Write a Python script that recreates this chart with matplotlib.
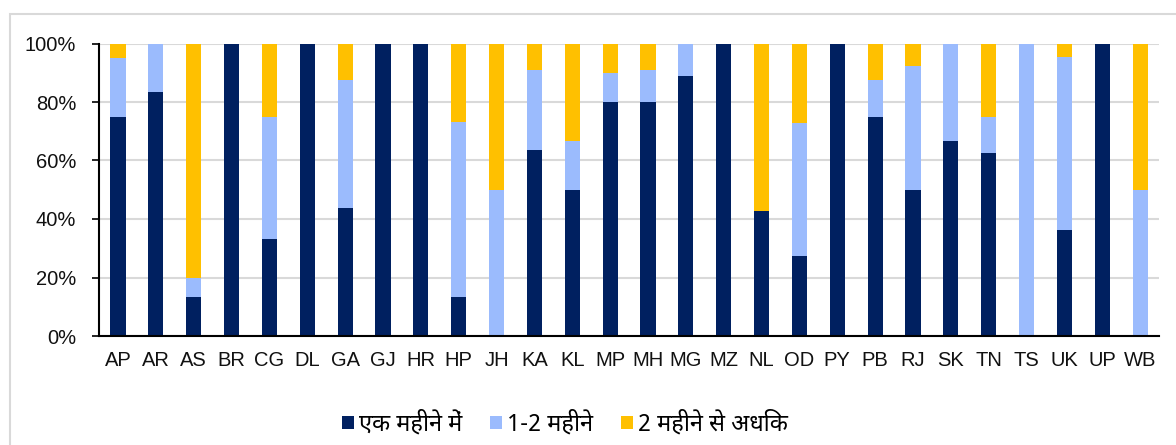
import matplotlib
matplotlib.use("Agg")
import matplotlib.pyplot as plt
from matplotlib.patches import Rectangle
import numpy as np

categories = ["AP", "AR", "AS", "BR", "CG", "DL", "GA", "GJ", "HR", "HP", "JH", "KA", "KL", "MP",
              "MH", "MG", "MZ", "NL", "OD", "PY", "PB", "RJ", "SK", "TN", "TS", "UK", "UP", "WB"]
within_month = [75, 83.3, 13.3, 100, 33.3, 100, 43.75, 100, 100, 13.3, 0, 63.6, 50, 80,
                80, 88.9, 100, 42.9, 27.3, 100, 75, 50, 66.7, 62.5, 0, 36.4, 100, 0]
one_two_months = [20, 16.7, 6.7, 0, 41.7, 0, 43.75, 0, 0, 60, 50, 27.3, 16.7, 10,
                  11, 11.1, 0, 0, 45.4, 0, 12.5, 42.3, 33.3, 12.5, 100, 59.1, 0, 50]
over_two_months = [5, 0, 80, 0, 25, 0, 12.5, 0, 0, 26.7, 50, 9.1, 33.3, 10,
                   9, 0, 0, 57.1, 27.3, 0, 12.5, 7.7, 0, 25, 0, 4.5, 0, 50]
series_names = ["एक महीने में", "1-2 महीने", "2 महीने से अधिक"]
yticks = [0, 20, 40, 60, 80, 100]
ytick_labels = ["0%", "20%", "40%", "60%", "80%", "100%"]

colors = ["#002060", "#9BBBFD", "#FFC000"]
W, H = 1176, 445
fig = plt.figure(figsize=(W / 100, H / 100), dpi=100)
fig.patch.set_facecolor("white")

ax = fig.add_axes([99 / W, 1 - 336 / H, (1159 - 99) / W, (336 - 43.5) / H])
x = np.arange(len(categories))
bw = 0.40
a = np.array(within_month)
b = np.array(one_two_months)
c = np.array(over_two_months)
ax.bar(x, a, bw, color=colors[0], label=series_names[0], zorder=3)
ax.bar(x, b, bw, bottom=a, color=colors[1], label=series_names[1], zorder=3)
ax.bar(x, c, bw, bottom=a + b, color=colors[2], label=series_names[2], zorder=3)

ax.set_xlim(-0.5, len(categories) - 0.5)
ax.set_ylim(0, 100)
ax.set_yticks(yticks)
ax.set_yticklabels(ytick_labels)
ax.set_xticks(x)
ax.set_xticklabels(categories)

lat = "Liberation Sans"
for lbl in ax.get_xticklabels() + ax.get_yticklabels():
    lbl.set_fontfamily(lat)
    lbl.set_fontsize(14.5)
    lbl.set_color("#111111")

ax.tick_params(axis="y", length=5.3, width=1.2, pad=11, color="black")
ax.tick_params(axis="x", length=0, pad=11)
ax.grid(axis="y", color="#d9d9d9", linewidth=1.5, zorder=0)
for s in ["top", "right"]:
    ax.spines[s].set_visible(False)
ax.spines["left"].set_linewidth(1.5)
ax.spines["bottom"].set_linewidth(1.5)
ax.spines["left"].set_zorder(4)
ax.spines["bottom"].set_zorder(4)

fig.patches.append(Rectangle((10 / W, -0.1), 1.2, 1 - 14 / H + 0.1, transform=fig.transFigure,
                             fill=False, edgecolor="#d9d9d9", linewidth=1.5))

fams = ["Noto Sans Devanagari", "Lohit Devanagari", "Mukta", "FreeSans",
        "Liberation Sans", "DejaVu Sans"]
leg = fig.legend(loc="center", bbox_to_anchor=(565 / W, 1 - 424 / H), ncol=3, frameon=False,
                 handlelength=0.5, handleheight=0.5, handletextpad=0.2, columnspacing=1.2,
                 prop={"family": fams, "size": 17})
plt.savefig("out.png", dpi=100)
